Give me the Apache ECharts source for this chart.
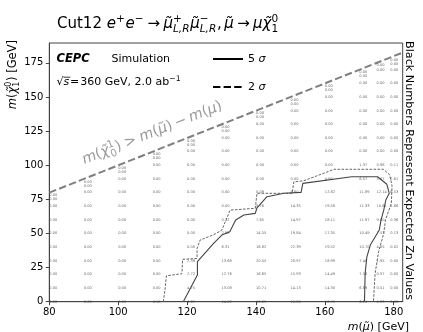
<!DOCTYPE html>
<html>
<head>
<meta charset="utf-8">
<script src="https://cdn.jsdelivr.net/npm/echarts@6/dist/echarts.min.js"></script>
<style>
  html, body { margin: 0; padding: 0; background: #fff; }
  #chart { width: 423px; height: 332px; }
</style>
</head>
<body>
<div id="chart"></div>
<script>
// Smuon mass points of the scan (GeV), left to right
const smuonMass = [80, 90, 100, 110, 120, 130, 140, 150, 160, 170, 175, 179];
// Regular neutralino mass rows (GeV)
const chiRows = [0, 10, 20, 30, 40, 50, 60, 70, 80, 90, 100, 110, 120, 130, 140, 150, 160, 170];
// Two extra neutralino points just below the kinematic edge, one pair per smuon mass
const chiNearEdge = [[75, 78], [85, 88], [95, 98], [105, 108], [115, 118], [125, 128],
                     [135, 138], [145, 148], [155, 158], [165, 168], [170, 173], [174, 177]];

// Expected Zn on the regular rows (from m_chi = 0 upward), one array per smuon mass
const zn80  = [0, 0, 0, 0, 0, 0, 0, 0];
const zn90  = [0, 0, 0, 0, 0, 0, 0, 0, 0];
const zn100 = [0, 0, 0, 0, 0, 0, 0, 0, 0, 0];
const zn110 = [0.18, 0, 0, 0, 0, 0, 0, 0, 0, 0, 0];
const zn120 = [6.67, 4.75, 2.72, 2.38, 0, 0, 0, 0, 0, 0, 0, 0];
const zn130 = [14.02, 13.08, 12.76, 13.68, 6.31, 2.98, 0.12, 0, 0, 0, 0, 0, 0];
const zn140 = [10.69, 10.71, 16.65, 20.55, 16.82, 14.55, 7.65, 0.76, 0.09, 0, 0, 0, 0, 0];
const zn150 = [10.80, 14.13, 15.93, 20.97, 22.39, 19.84, 14.97, 14.35, 5.80, 0, 0, 0, 0, 0, 0];
const zn160 = [10.75, 14.30, 14.49, 18.99, 19.52, 17.35, 18.11, 19.58, 12.82, 4.90, 0, 0, 0, 0, 0, 0];
const zn170 = [6.21, 6.89, 7.56, 7.46, 10.70, 10.49, 11.97, 11.33, 11.89, 6.57, 1.37, 0, 0, 0, 0, 0, 0];
const zn175 = [0.33, 0.51, 0.97, 1.95, 4.05, 7.53, 9.60, 10.61, 12.14, 5.67, 0.98, 0, 0, 0, 0, 0, 0];
const zn179 = [0, 0, 0, 0, 0.02, 0.13, 0.36, 1.66, 6.53, 2.61, 0.11, 0, 0, 0, 0, 0, 0, 0];
// Expected Zn at the two near-edge points of each smuon mass
const znNearEdge = [[0, 0], [0, 0], [0, 0], [0, 0], [0, 0], [0, 0],
                    [0, 0], [0, 0], [0, 0], [0, 0], [0, 0], [0, 0]];

// Discovery (5 sigma) and exclusion (2 sigma) contours: [m_smuon, m_chi] in GeV
const fiveSigma = [[118.9, 0], [121, 10], [123, 19.5], [123, 29.3], [127.7, 42.7], [130.1, 48.8],
                   [132.4, 51.2], [134.1, 59.8], [136.5, 63.5], [139.8, 64.7], [140.3, 68.8],
                   [143.2, 76.9], [148.1, 79.4], [153.1, 80.1], [153.6, 86.7], [167.8, 91.5],
                   [175.3, 91.5], [178.0, 86.0], [178.7, 79.4], [177.7, 74.5], [177.1, 67.1],
                   [176.3, 59.8], [175.8, 52.5], [173.2, 41.5], [172.2, 32.9], [171.7, 20.8],
                   [171.5, 0]];
const twoSigma = [[113.1, 0], [113.6, 9], [114.0, 19], [118.5, 20.5], [118.7, 31], [122.9, 31.7],
                  [122.9, 39.1], [123.8, 45.2], [127.7, 49], [130.1, 52.5], [132.5, 67.1],
                  [139.8, 68.4], [140.3, 79.4], [150.5, 79.4], [151.0, 87.8], [153.9, 88.6],
                  [162.7, 97], [177.0, 97], [178.8, 93], [179.5, 85], [179.3, 72], [177.6, 60],
                  [177.1, 50], [175.6, 36.6], [174.6, 20.8], [174.1, 0]];

// Kinematic edge m_chi = m_smuon - m_mu across the x range
const muonMass = 0.106;
const edgeSmuon = [80, 182.6];

const znByColumn = [zn80, zn90, zn100, zn110, zn120, zn130, zn140, zn150, zn160, zn170, zn175, zn179];

// Build the labelled grid points [m_smuon, m_chi, Zn]
const gridPoints = [];
smuonMass.forEach((m, i) => {
  znByColumn[i].forEach((z, j) => gridPoints.push([m, chiRows[j], z]));
  chiNearEdge[i].forEach((c, j) => gridPoints.push([m, c, znNearEdge[i][j]]));
});
const edgeLine = edgeSmuon.map(m => [m, m - muonMass]);

const FAMILY = "'DejaVu Sans', sans-serif";
const ctx2d = document.createElement('canvas').getContext('2d');
function textWidth(str, size, italic, bold) {
  ctx2d.font = (italic ? 'italic ' : '') + (bold ? 'bold ' : '') + size + 'px ' + FAMILY;
  return ctx2d.measureText(str).width;
}

// Lay out a run of math-like text (italic runs, super/subscripts) as one graphic group.
// segs: {t, it, bold, pad, after, overline} runs, or {sup, sub, subIt} scripts.
function mathText(segs, o) {
  const size = o.size, color = o.color || '#000';
  const small = size * 0.7;
  const kids = [];
  let cx = 0;
  const mk = (str, x, base, sz, it, bold) => ({
    type: 'text', x: x, y: base - 0.33 * sz,
    style: { text: str, fontSize: sz, fontFamily: FAMILY,
             fontStyle: it ? 'italic' : 'normal', fontWeight: bold ? 'bold' : 'normal',
             fill: color, align: 'left', verticalAlign: 'middle' }
  });
  segs.forEach(s => {
    if (s.t !== undefined) {
      cx += (s.pad || 0) * size;
      const w = textWidth(s.t, size, s.it, s.bold);
      kids.push(mk(s.t, cx, 0, size, s.it, s.bold));
      if (s.overline) {
        kids.push({ type: 'line', shape: { x1: cx, y1: -0.8 * size, x2: cx + w + 0.1 * size, y2: -0.8 * size },
                    style: { stroke: color, lineWidth: 0.8 } });
      }
      cx += w + ((s.after !== undefined ? s.after : s.pad) || 0) * size;
    } else {
      let w = 0;
      if (s.sup) {
        kids.push(mk(s.sup, cx, -0.42 * size, small, s.supIt));
        w = Math.max(w, textWidth(s.sup, small, s.supIt));
      }
      if (s.sub) {
        kids.push(mk(s.sub, cx, 0.24 * size, small, s.subIt));
        w = Math.max(w, textWidth(s.sub, small, s.subIt));
      }
      cx += w + 0.05 * size;
    }
  });
  const shift = o.align === 'center' ? -cx / 2 : (o.align === 'right' ? -cx : 0);
  kids.forEach(k => {
    if (k.type === 'text') k.x += shift;
    else { k.shape.x1 += shift; k.shape.x2 += shift; }
  });
  return { type: 'group', x: o.x, y: o.y, rotation: o.rotation || 0, children: kids, silent: true };
}

const MU = 'μ\u0303';
const CHI = 'χ\u0303';

const graphics = [
  // Title
  mathText([
    { t: 'Cut12 ' }, { t: 'e', it: 1 }, { sup: '+' }, { t: 'e', it: 1 }, { sup: '−' },
    { t: '→', pad: 0.22 }, { t: MU, it: 1 }, { sup: '+', sub: 'L,R', subIt: 1 },
    { t: MU, it: 1 }, { sup: '−', sub: 'L,R', subIt: 1 }, { t: ',', after: 0.17 },
    { t: MU, it: 1 }, { t: '→', pad: 0.22 }, { t: 'μ', it: 1 }, { t: CHI, it: 1 }, { sup: '0', sub: '1' }
  ], { x: 57, y: 29, size: 15 }),
  // Experiment tag
  mathText([{ t: 'CEPC', it: 1, bold: 1 }], { x: 56.5, y: 62.5, size: 11.5 }),
  mathText([{ t: 'Simulation' }], { x: 111.5, y: 62.5, size: 11 }),
  mathText([
    { t: '√' }, { t: 's', it: 1, overline: 1 }, { t: '=', pad: 0.08 }, { t: '360 GeV, 2.0 ab' }, { sup: '−1' }
  ], { x: 56.5, y: 86, size: 11 }),
  // Contour key
  { type: 'line', shape: { x1: 213, y1: 59, x2: 243, y2: 59 }, style: { stroke: '#000', lineWidth: 2 }, silent: true },
  { type: 'line', shape: { x1: 213, y1: 87, x2: 243, y2: 87 }, style: { stroke: '#000', lineWidth: 2, lineDash: [7.4, 3.2] }, silent: true },
  mathText([{ t: '5 ' }, { t: 'σ', it: 1 }], { x: 248, y: 62.5, size: 11 }),
  mathText([{ t: '2 ' }, { t: 'σ', it: 1 }], { x: 248, y: 90.5, size: 11 }),
  // Kinematic edge annotation
  mathText([
    { t: 'm', it: 1 }, { t: '(' }, { t: CHI, it: 1 }, { sup: '1', sub: '0' }, { t: ')' },
    { t: '>', pad: 0.28 }, { t: 'm', it: 1 }, { t: '(' }, { t: MU, it: 1 }, { t: ')' },
    { t: '−', pad: 0.22 }, { t: 'm', it: 1 }, { t: '(' }, { t: 'μ', it: 1 }, { t: ')' }
  ], { x: 154, y: 137.5, size: 14.5, color: '#9a9a9a', align: 'center', rotation: Math.atan(1.366 / 3.44) }),
  // Axis titles
  mathText([{ t: 'm', it: 1 }, { t: '(' }, { t: MU, it: 1 }, { t: ') [GeV]' }],
    { x: 409, y: 331, size: 11, align: 'right' }),
  mathText([{ t: 'm', it: 1 }, { t: '(' }, { t: CHI, it: 1 }, { sup: '0', sub: '1' }, { t: ') [GeV]' }],
    { x: 16.5, y: 40, size: 11.5, align: 'right', rotation: Math.PI / 2 }),
  // Side note
  mathText([{ t: 'Black Numbers Represent Expected Zn Values' }],
    { x: 405.5, y: 41, size: 11.2, rotation: -Math.PI / 2 })
];

const axisStyle = { lineStyle: { color: '#444', width: 1 } };

const chart = echarts.init(document.getElementById('chart'), null, { renderer: 'canvas' });
chart.setOption({
  animation: false,
  backgroundColor: '#fff',
  grid: { left: 49.3, right: 20.3, top: 43, bottom: 30.3, show: true, borderColor: '#444', borderWidth: 1 },
  xAxis: {
    type: 'value', min: 80, max: 182.6, interval: 20,
    splitLine: { show: false },
    axisLine: axisStyle,
    axisTick: { length: 3.5, lineStyle: { color: '#444' } },
    axisLabel: { fontSize: 10, color: '#000', fontFamily: FAMILY, margin: 5.5, showMaxLabel: false }
  },
  yAxis: {
    type: 'value', min: 0, max: 189.5, interval: 25,
    splitLine: { show: false },
    axisLine: axisStyle,
    axisTick: { length: 3.5, lineStyle: { color: '#444' } },
    axisLabel: { fontSize: 10, color: '#000', fontFamily: FAMILY, margin: 6, showMaxLabel: false }
  },
  series: [
    {
      type: 'line', data: edgeLine, showSymbol: false, silent: true,
      lineStyle: { color: '#808080', width: 2, type: [7.4, 3.2] }, z: 2
    },
    {
      type: 'scatter', data: gridPoints, symbolSize: 0, silent: true, z: 3,
      label: {
        show: true, position: 'right', distance: 0,
        fontSize: 3.6, fontFamily: FAMILY, color: '#444',
        formatter: p => p.value[2].toFixed(2)
      }
    },
    {
      type: 'line', data: fiveSigma, showSymbol: false, silent: true, z: 4,
      lineStyle: { color: '#444', width: 1.1, type: 'solid' }
    },
    {
      type: 'line', data: twoSigma, showSymbol: false, silent: true, z: 4,
      lineStyle: { color: '#555', width: 0.9, type: [2.6, 1.4] }
    }
  ],
  graphic: graphics
});
</script>
</body>
</html>
